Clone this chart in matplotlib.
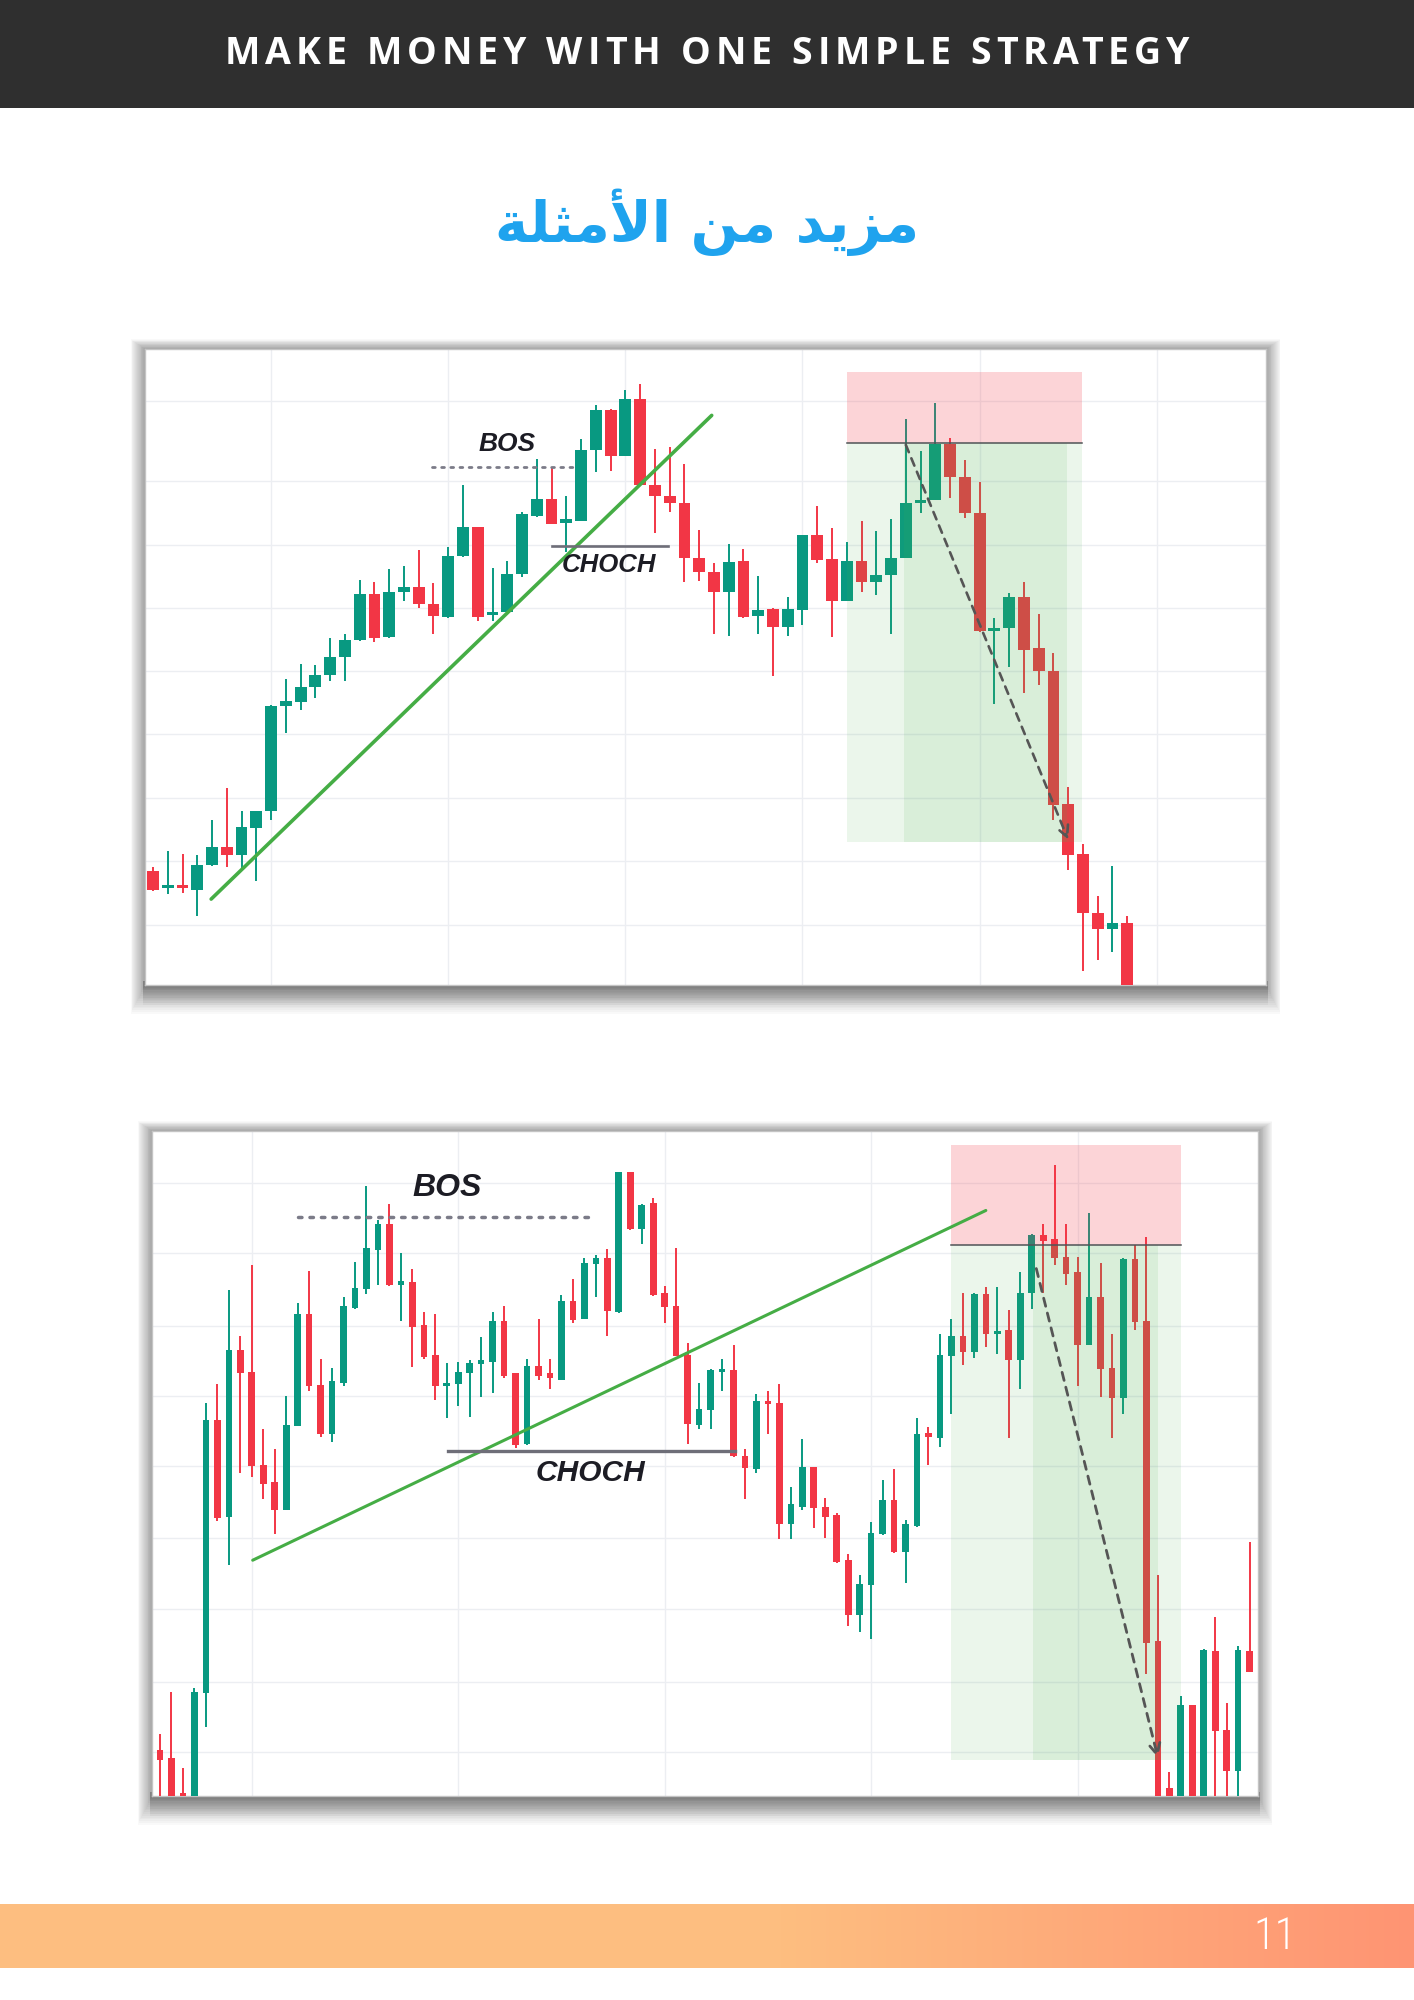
import numpy as np
import matplotlib
matplotlib.use("Agg")
import matplotlib.pyplot as plt
from matplotlib.patches import Rectangle

W, H = 1414, 2000

# ---- chart 1 (upper) : open / high / low / close, price units of the screenshot
open1 = [26.2, 22.3, 23.0, 22.0, 27.7, 31.8, 30.0, 36.3, 40.0, 64.2,
         65.2, 68.8, 71.5, 75.5, 79.5, 90.2, 80.2, 90.6, 91.7, 87.8,
         84.8, 98.8, 105.5, 85.2, 86.0, 94.8, 108.2, 112.0, 106.5, 107.0,
         123.3, 132.5, 122.0, 135.0, 115.2, 112.8, 111.2, 98.5, 95.2, 90.5,
         97.7, 85.0, 86.7, 82.5, 86.5, 103.7, 98.2, 88.5, 97.7, 93.0,
         94.5, 98.5, 111.0, 111.8, 124.8, 117.0, 108.7, 81.5, 82.2, 89.5,
         77.7, 72.3, 41.7, 30.2, 16.7, 13.0, 14.3]
high1 = [27.3, 31.0, 30.2, 30.0, 38.0, 45.3, 40.0, 40.2, 64.5, 70.5,
         74.0, 73.7, 80.0, 81.0, 93.3, 93.0, 95.8, 96.5, 100.2, 92.7,
         101.0, 115.2, 105.6, 96.2, 97.8, 109.0, 121.2, 119.5, 112.7, 125.8,
         133.7, 132.7, 137.2, 138.5, 123.5, 124.0, 120.2, 104.8, 97.3, 101.7,
         100.5, 94.2, 87.0, 89.5, 103.8, 110.5, 105.3, 102.0, 107.0, 104.7,
         107.3, 130.5, 123.0, 134.2, 126.2, 121.0, 116.0, 84.5, 90.3, 92.8,
         85.5, 76.5, 45.7, 32.5, 20.5, 27.5, 16.0]
low1 = [21.7, 21.0, 21.3, 16.0, 27.5, 27.2, 27.0, 24.0, 38.0, 58.0,
        63.5, 66.2, 70.0, 70.0, 79.3, 79.0, 80.0, 88.5, 87.0, 81.0,
        84.5, 98.6, 83.8, 84.0, 85.5, 94.0, 107.8, 106.2, 99.8, 106.9,
        118.2, 118.5, 121.9, 115.1, 104.3, 109.0, 93.0, 93.2, 81.0, 80.5,
        84.7, 81.0, 71.3, 80.5, 83.0, 97.2, 80.2, 88.4, 90.7, 89.8,
        81.0, 98.4, 108.7, 111.7, 112.2, 107.7, 81.3, 64.8, 73.2, 67.2,
        69.2, 38.0, 26.5, 3.2, 5.8, 7.5, -6.0]
close1 = [22.0, 23.0, 22.3, 27.7, 31.8, 30.0, 36.5, 40.0, 64.2, 65.4,
          68.8, 71.5, 75.5, 79.5, 90.2, 80.0, 90.6, 91.8, 87.8, 85.0,
          99.0, 105.5, 84.8, 86.0, 94.8, 108.5, 112.0, 106.3, 107.3, 123.3,
          132.5, 122.0, 135.0, 115.2, 112.7, 111.0, 98.5, 95.2, 90.5, 97.5,
          84.8, 86.5, 82.5, 86.7, 103.7, 98.0, 88.5, 97.7, 93.0, 94.5,
          98.5, 111.2, 111.8, 124.8, 117.0, 108.7, 81.5, 82.2, 89.5, 77.3,
          72.3, 41.5, 30.0, 16.5, 13.0, 14.3, -5.0]

# ---- chart 2 (lower)
open2 = [10.6, 8.6, 0.8, -5.0, 23.5, 86.0, 64.0, 102.1, 97.1, 75.8,
         71.8, 65.5, 84.8, 110.3, 94.1, 83.0, 94.5, 111.8, 116.0, 125.1,
         131.1, 117.1, 117.8, 107.8, 101.1, 93.8, 94.3, 96.8, 99.0, 99.3,
         108.8, 96.8, 80.6, 98.5, 96.8, 95.3, 113.3, 109.3, 121.8, 123.3,
         110.8, 142.8, 129.8, 135.8, 115.1, 112.3, 101.1, 85.0, 88.3, 97.1,
         97.6, 77.8, 74.8, 90.5, 90.0, 62.3, 66.3, 75.3, 66.3, 64.3,
         54.0, 41.5, 48.3, 60.0, 67.8, 55.8, 61.8, 83.0, 82.0, 100.8,
         105.3, 101.8, 115.0, 105.8, 106.8, 99.8, 115.1, 128.5, 127.5, 123.5,
         120.0, 103.3, 114.3, 98.1, 91.1, 123.0, 108.8, 35.5, 1.8, -5.0,
         20.8, -5.0, 33.3, 15.1, 5.8, 33.3]
high2 = [14.3, 23.8, 6.5, 24.8, 90.0, 94.3, 115.8, 105.3, 121.5, 84.0,
         79.5, 91.6, 112.8, 120.3, 100.1, 98.1, 114.3, 122.3, 139.6, 132.0,
         135.6, 124.3, 120.8, 110.8, 110.3, 99.1, 99.3, 99.8, 105.1, 110.8,
         112.3, 96.8, 100.1, 109.3, 100.1, 114.8, 118.3, 123.3, 123.8, 125.3,
         143.0, 143.0, 135.5, 137.0, 116.8, 125.5, 103.8, 94.5, 97.7, 100.1,
         103.3, 79.5, 92.0, 92.8, 94.3, 70.8, 81.8, 75.4, 68.3, 64.8,
         55.5, 50.5, 62.8, 72.3, 74.8, 63.3, 86.5, 84.5, 105.8, 109.3,
         115.3, 115.3, 116.5, 116.5, 111.3, 120.0, 128.6, 131.1, 144.6, 131.1,
         123.5, 133.5, 122.0, 105.8, 123.3, 126.3, 128.0, 50.5, 5.5, 22.8,
         20.9, 33.6, 41.0, 21.3, 34.3, 58.1]
low2 = [-6.0, -6.0, -6.0, -6.0, 15.8, 63.0, 52.8, 74.0, 73.0, 68.0,
        60.0, 65.4, 84.7, 92.8, 82.3, 81.1, 93.8, 111.5, 115.0, 117.0,
        116.9, 108.8, 98.3, 100.1, 90.8, 86.6, 89.3, 86.8, 91.3, 92.3,
        95.8, 79.8, 80.3, 95.3, 93.3, 95.2, 108.3, 109.2, 114.3, 105.3,
        110.7, 129.7, 126.5, 114.5, 108.3, 100.7, 80.6, 84.1, 84.1, 92.8,
        77.6, 68.0, 74.0, 83.0, 58.8, 58.8, 65.5, 61.3, 59.0, 53.4,
        39.0, 37.5, 36.0, 59.8, 55.7, 48.8, 61.7, 75.8, 80.0, 87.6,
        98.8, 100.3, 102.8, 101.3, 82.0, 93.1, 111.5, 115.3, 121.5, 117.0,
        93.8, 103.2, 91.3, 82.0, 87.6, 106.8, 28.0, -6.0, -6.0, -6.0,
        -6.0, -6.0, -6.0, -6.0, -6.0, 28.4]
close2 = [8.3, -5.0, -5.0, 23.8, 86.0, 63.6, 102.1, 96.8, 75.5, 71.5,
          65.5, 85.0, 110.3, 93.8, 83.0, 95.1, 112.3, 116.3, 125.5, 131.1,
          117.0, 117.8, 107.3, 100.5, 93.8, 94.5, 97.1, 99.1, 99.5, 108.8,
          96.1, 80.3, 98.5, 96.1, 95.8, 113.3, 109.0, 122.0, 123.3, 111.1,
          142.8, 129.8, 135.3, 114.8, 112.1, 100.8, 85.3, 88.6, 97.6, 97.8,
          77.8, 75.1, 90.5, 89.8, 62.3, 66.8, 75.3, 66.0, 64.0, 53.5,
          41.5, 48.5, 60.3, 67.8, 55.8, 62.3, 83.0, 82.3, 101.1, 105.3,
          101.8, 115.0, 105.8, 106.5, 99.8, 115.3, 128.5, 127.1, 123.1, 119.6,
          103.3, 114.3, 97.8, 91.1, 123.0, 108.5, 35.1, -5.0, -5.0, 20.8,
          -5.0, 33.5, 14.8, 5.8, 33.5, 28.5]

# ---- drawings on the charts (bar index, price)
trend1 = [(3.94, 19.8), (37.85, 131.3)]
bos1 = (18.9, 28.8, 119.5)          # x0, x1, level
choch1 = (27.0, 34.9, 101.2)
bos1_label = (24.0, 124.8)
choch1_label = (30.9, 96.7)
trade1 = dict(x0=47.0, x1=62.95, xin=50.9, xout=61.9, stop=141.3, entry=125.0, target=33.0)
arrow1 = [(51.0, 124.5), (62.0, 33.5)]

trend2 = [(8.08, 54.0), (72.0, 134.1)]
bos2 = (12.0, 37.8, 132.6)
choch2 = (25.1, 50.1, 79.1)
bos2_label = (25.0, 139.3)
choch2_label = (37.5, 74.0)
trade2 = dict(x0=69.0, x1=89.0, xin=76.1, xout=87.0, stop=149.1, entry=126.1, target=8.3)
arrow2 = [(76.4, 120.8), (87.0, 8.8)]

grid1_x = [8, 20, 32, 44, 56, 68]
grid1_y = [134.5, 116.2, 101.5, 87.0, 72.3, 57.8, 43.2, 28.5, 13.8]
grid2_x = [8, 26, 44, 62, 80]
grid2_y = [140.3, 124.3, 107.6, 91.5, 75.5, 59.0, 42.8, 26.1, 10.0]

header = "MAKE MONEY WITH ONE SIMPLE STRATEGY"
# "مزيد من الأمثلة" written in shaped presentation forms, visual order
title_ar = "\uFE94\uFEE0\uFE9C\uFEE3\uFEF7\uFE8D \uFEE6\uFEE3 \uFEAA\uFEF3\uFEB0\uFEE3"
page_no = "11"

GREEN = "#089981"
RED = "#f23645"
LABEL_FONT = ["Liberation Sans Narrow", "Liberation Sans", "DejaVu Sans"]


def frac(x0, y0, x1, y1):
    return [x0 / W, 1 - y1 / H, (x1 - x0) / W, (y1 - y0) / H]


fig = plt.figure(figsize=(W / 100, H / 100), dpi=100)
fig.patch.set_facecolor("white")
renderer = fig.canvas.get_renderer()


def shadow(x0, y0, x1, y1):
    # soft drop shadow, heavier under the picture
    for k in range(1, 17):
        fig.add_artist(Rectangle(((x0 - 0.9 * k) / W, 1 - (y1 + 1.8 * k) / H),
                                 (x1 - x0 + 1.8 * k) / W, (y1 - y0 + 2.4 * k) / H,
                                 transform=fig.transFigure, color="black",
                                 alpha=0.022, lw=0, zorder=-5))
    for k in range(1, 9):
        fig.add_artist(Rectangle(((x0 - 2) / W, 1 - (y1 + 2.5 * k) / H),
                                 (x1 - x0 + 4) / W, (2.5 * k + 4) / H,
                                 transform=fig.transFigure, color="black",
                                 alpha=0.03, lw=0, zorder=-5))


def draw_candles(ax, o, h, l, c, body_w, wick_w):
    o, h, l, c = map(np.asarray, (o, h, l, c))
    x = np.arange(len(o))
    col = np.where(c >= o, GREEN, RED)
    ax.vlines(x, l, h, colors=col, lw=wick_w, zorder=3)
    ax.bar(x, np.maximum(np.abs(c - o), 0.75), body_w, bottom=np.minimum(o, c),
           color=col, lw=0, zorder=4)


def setup(ax, xlim, ylim, gx, gy):
    ax.set_xlim(*xlim)
    ax.set_ylim(*ylim)
    ax.set_xticks(gx)
    ax.set_yticks(gy)
    ax.set_axisbelow(True)
    ax.grid(color="#eceef2", lw=1)
    ax.tick_params(length=0, labelbottom=False, labelleft=False)
    for s in ax.spines.values():
        s.set_color("#c4c4c4")
        s.set_linewidth(1)


def trade_box(ax, t, lw):
    ax.add_patch(Rectangle((t["x0"], t["entry"]), t["x1"] - t["x0"], t["stop"] - t["entry"],
                           color=RED, alpha=0.21, lw=0, zorder=5))
    ax.add_patch(Rectangle((t["x0"], t["target"]), t["x1"] - t["x0"], t["entry"] - t["target"],
                           color="#4caf50", alpha=0.11, lw=0, zorder=5))
    ax.add_patch(Rectangle((t["xin"], t["target"]), t["xout"] - t["xin"], t["entry"] - t["target"],
                           color="#4caf50", alpha=0.11, lw=0, zorder=5))
    ax.plot([t["x0"], t["x1"]], [t["entry"]] * 2, color="#4f5356", lw=lw, zorder=6)


def annotate(ax, trend, bos, choch, bos_lab, choch_lab, arrow, sizes, lws):
    ax.plot(*zip(*trend), color="#45ad45", lw=lws[0], solid_capstyle="round", zorder=7)
    ax.plot([bos[0], bos[1]], [bos[2]] * 2, color="#7b7b88", lw=lws[1],
            linestyle=(0, (1, 2.3)), dash_capstyle="round", zorder=7)
    ax.plot([choch[0], choch[1]], [choch[2]] * 2, color="#6e6e78", lw=lws[2], zorder=7)
    ax.text(*bos_lab, "BOS", ha="center", va="center", fontsize=sizes[0], fontweight="bold",
            fontstyle="italic", color="#1c1c24", family=LABEL_FONT, zorder=8)
    ax.text(*choch_lab, "CHOCH", ha="center", va="center", fontsize=sizes[1], fontweight="bold",
            fontstyle="italic", color="#1c1c24", family=LABEL_FONT, zorder=8)
    ax.annotate("", xy=arrow[1], xytext=arrow[0],
                arrowprops=dict(arrowstyle="->", color="#555555", lw=lws[3],
                                linestyle=(0, (3, 2.5)), shrinkA=0, shrinkB=0,
                                mutation_scale=20), zorder=8)


# ---- header bar
fig.add_artist(Rectangle((0, 1 - 108 / H), 1, 108 / H, transform=fig.transFigure,
                         color="#2f2f2f", lw=0, zorder=-10))
hkw = dict(color="white", fontsize=27, fontweight="bold",
           family=["Open Sans", "DejaVu Sans"], va="center", ha="left")


def text_width(s, **kw):
    t = fig.text(0, 0, s, **kw)
    w = t.get_window_extent(renderer).width
    t.remove()
    return w


target_w = 965
full_w = text_width(header, **hkw)
track = (target_w - full_w) / (len(header) - 1)
left = 707 - target_w / 2
for i, ch in enumerate(header):
    if ch == " ":
        continue
    xi = left + text_width(header[:i + 1], **hkw) - text_width(ch, **hkw) + i * track
    fig.text(xi / W, 1 - 54 / H, ch, **hkw)

# ---- arabic title
tkw = dict(color="#1fa3ee", fontweight="bold", family=["DejaVu Sans"], ha="center", va="center")
w0 = text_width(title_ar, fontsize=40, **tkw)
fig.text(707 / W, 1 - 222 / H, title_ar, fontsize=40 * 424 / w0, **tkw)

# ---- chart 1
shadow(145, 349, 1266, 985)
ax1 = fig.add_axes(frac(145, 349, 1266, 985))
setup(ax1, (-0.542, 75.4), (0, 146.6), grid1_x, grid1_y)
draw_candles(ax1, open1, high1, low1, close1, 0.8, 1.4)
trade_box(ax1, trade1, 1.1)
annotate(ax1, trend1, bos1, choch1, bos1_label, choch1_label, arrow1,
         sizes=(19, 18.5), lws=(2.6, 2.0, 1.9, 1.9))

# ---- chart 2
shadow(152, 1131, 1258, 1796)
ax2 = fig.add_axes(frac(152, 1131, 1258, 1796))
setup(ax2, (-0.70, 95.73), (0, 152.3), grid2_x, grid2_y)
draw_candles(ax2, open2, high2, low2, close2, 0.58, 1.4)
trade_box(ax2, trade2, 1.1)
annotate(ax2, trend2, bos2, choch2, bos2_label, choch2_label, arrow2,
         sizes=(23, 21.5), lws=(2.2, 2.5, 2.4, 2.0))

# ---- footer bar with gradient
fax = fig.add_axes(frac(0, 1904, W, 1968))
px = np.arange(W)
t = np.clip((px - 780) / (W - 780), 0, 1)[None, :, None]
c0 = np.array([253, 190, 128]) / 255
c1 = np.array([255, 148, 115]) / 255
fax.imshow(c0 * (1 - t) + c1 * t, aspect="auto", extent=(0, W, 0, 1))
fax.axis("off")
fig.text(1275 / W, 1 - 1937 / H, page_no, color="white", fontsize=32,
         family=["Roboto Condensed", "Roboto", "DejaVu Sans"], fontweight="light",
         ha="center", va="center")

fig.savefig("out.png", dpi=100)
